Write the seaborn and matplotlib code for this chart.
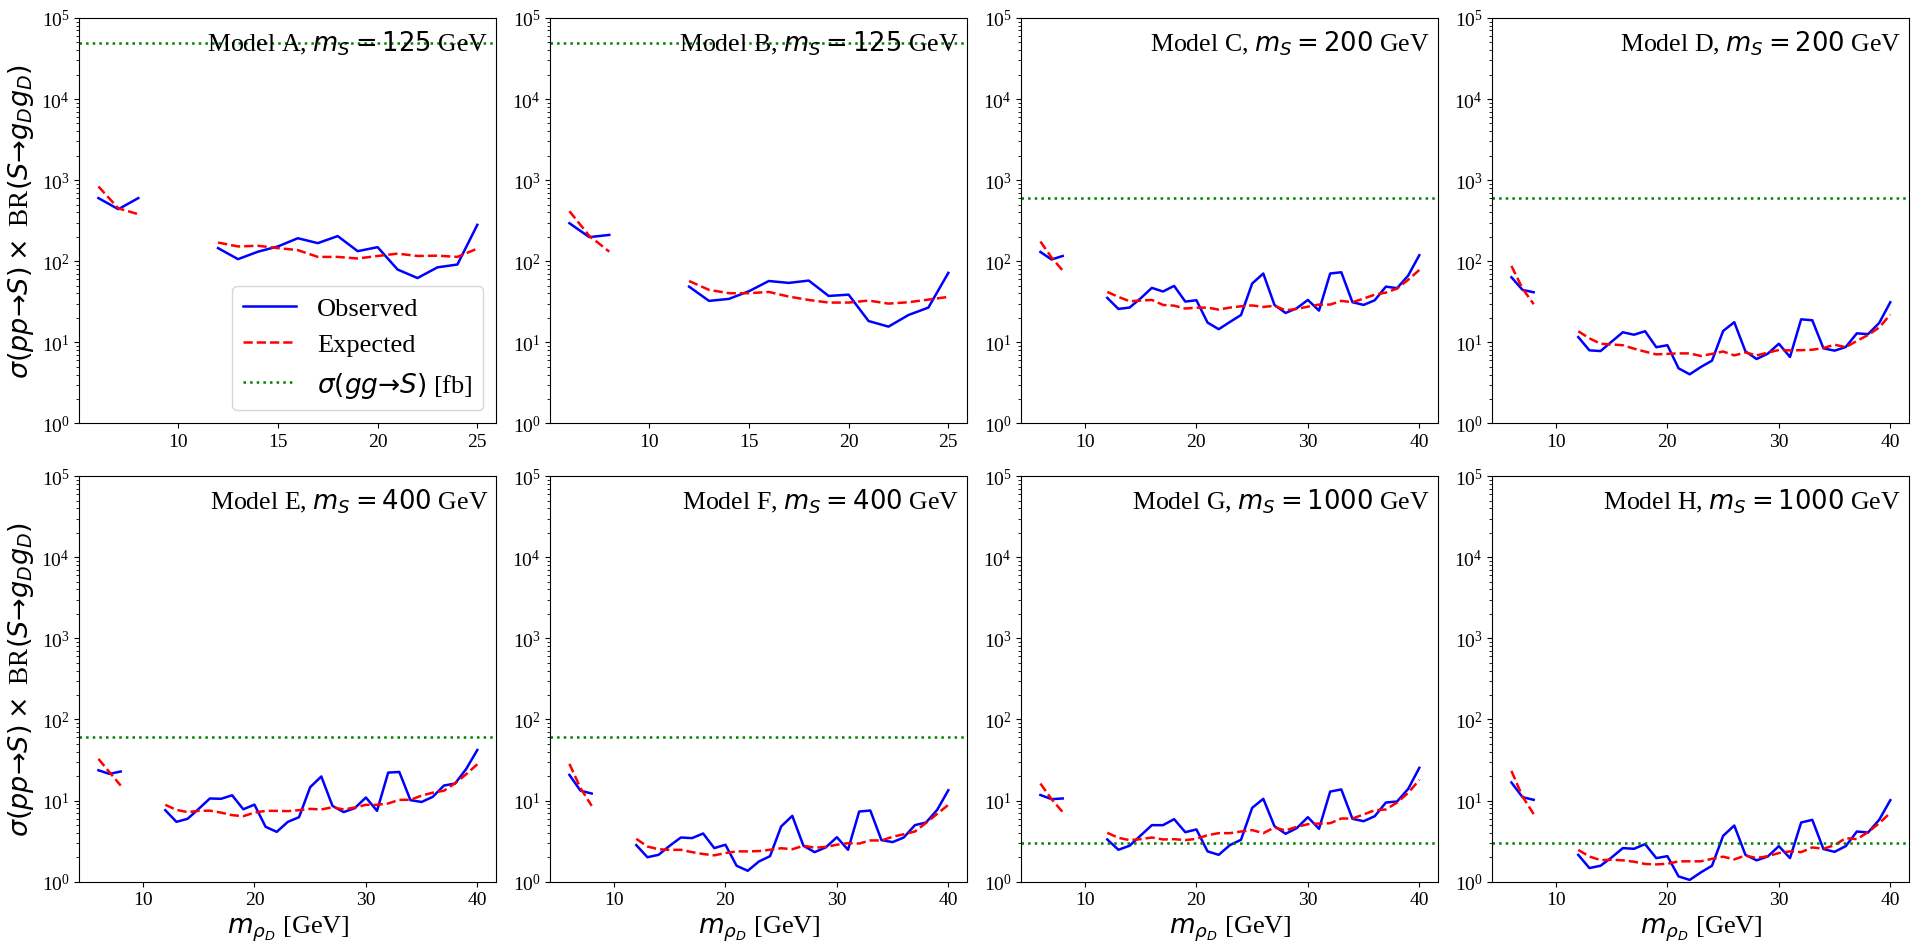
import seaborn as sns
import matplotlib.pyplot as plt
import pandas as pd
from matplotlib.lines import Line2D

# dark-pion mass points (GeV)
mass_short = [6, 7, 8, 12, 13, 14, 15, 16, 17, 18, 19, 20, 21, 22, 23, 24, 25]
mass_long = [6, 7, 8, 12, 13, 14, 15, 16, 17, 18, 19, 20, 21, 22, 23, 24, 25,
             26, 27, 28, 29, 30, 31, 32, 33, 34, 35, 36, 37, 38, 39, 40]

models = ["A", "B", "C", "D", "E", "F", "G", "H"]
m_S = [125, 125, 200, 200, 400, 400, 1000, 1000]
sigma_gg = [49000, 49000, 600, 600, 60, 60, 3, 3]  # fb

obs_A = [600, 438, 600, 145, 106, 131, 152, 192, 167, 204, 133, 149, 79, 62, 84, 91, 281]
exp_A = [835, 448, 380, 170, 152, 155, 145, 137, 113, 113, 108, 116, 124, 116, 117, 113, 143]

obs_B = [294, 198, 211, 48.6, 32.4, 34.3, 42.6, 57, 54, 57.7, 37.3, 38.7, 18.3, 15.6, 21.7, 26.8, 71.8]
exp_B = [414, 205, 131, 57, 44.3, 40.3, 40.3, 41.8, 36.6, 33.3, 30.9, 30.9, 32.7, 30, 31.2, 33.6, 36.3]

obs_C = [130, 105, 116, 35.3, 25.8, 26.8, 34.9, 46.9, 42.3, 49.6, 31.8, 33, 17.5, 14.5, 17.8, 21.7,
         53, 70.5, 28.9, 23, 26.3, 33.3, 24.6, 70.5, 73.1, 31.2, 28.9, 33, 48.6, 46.5, 66.5, 118.6]
exp_C = [175, 111, 76.7, 41.8, 36.3, 32.1, 32.7, 33.3, 28.9, 28.3, 26.1, 26.7, 26.8, 25.3, 26.8, 27.8,
         28.5, 27.3, 28.2, 24.8, 25.8, 27.5, 29.2, 29.2, 32.4, 31.2, 34.6, 38.7, 41, 46, 59, 78]

obs_D = [63.4, 44.3, 41.4, 11.6, 7.96, 7.8, 10.2, 13.3, 12.4, 13.7, 8.7, 9.2, 4.78, 4.03, 4.96, 5.94,
         13.8, 17.7, 7.74, 6.22, 7.24, 9.6, 6.59, 19.2, 18.7, 8.43, 7.89, 8.75, 12.9, 12.6, 17.3, 31.2]
exp_D = [87.5, 46, 29.5, 13.7, 11.2, 9.6, 9.4, 9.2, 8.35, 7.67, 7.1, 7.2, 7.3, 7.3, 6.78, 7.2,
         7.7, 6.9, 7.5, 6.9, 7.45, 8.04, 7.95, 8.0, 8.1, 8.5, 9.35, 8.7, 10.4, 12.3, 15.2, 22]

obs_E = [23.6, 21.3, 22.8, 7.6, 5.46, 5.95, 7.9, 10.6, 10.5, 11.6, 7.8, 8.9, 4.74, 4.11, 5.46, 6.23,
         14.6, 19.8, 8.6, 7.2, 8.05, 10.9, 7.46, 22.1, 22.5, 10.1, 9.6, 11.1, 15.3, 16.2, 24.5, 42]
exp_E = [32.6, 22.3, 15.3, 8.85, 7.67, 7.2, 7.46, 7.5, 7.1, 6.6, 6.41, 7.1, 7.46, 7.46, 7.4, 7.6,
         7.9, 7.75, 8.28, 7.75, 8.2, 8.85, 8.85, 9.2, 10.2, 10.2, 11.5, 12.5, 13.2, 16.3, 21.1, 28]

obs_F = [20.7, 13.2, 12.2, 2.82, 2.0, 2.14, 2.77, 3.5, 3.44, 3.92, 2.59, 2.85, 1.57, 1.36, 1.77, 2.06,
         4.79, 6.47, 2.77, 2.31, 2.64, 3.53, 2.47, 7.32, 7.53, 3.25, 3.07, 3.5, 4.97, 5.36, 7.67, 13.4]
exp_F = [28.3, 14.2, 8.6, 3.37, 2.71, 2.51, 2.46, 2.47, 2.31, 2.19, 2.11, 2.25, 2.36, 2.36, 2.38, 2.47,
         2.58, 2.51, 2.77, 2.62, 2.68, 2.85, 2.98, 2.95, 3.22, 3.22, 3.57, 3.84, 4.15, 5.3, 6.85, 8.85]

obs_G = [11.7, 10.4, 10.6, 3.31, 2.47, 2.77, 3.71, 4.97, 4.97, 5.89, 4.07, 4.4, 2.36, 2.14, 2.82, 3.28,
         8.12, 10.5, 4.83, 3.89, 4.56, 6.23, 4.48, 12.9, 13.7, 5.95, 5.56, 6.41, 9.45, 9.72, 13.9, 25.3]
exp_G = [16.2, 10.4, 7.2, 4.0, 3.47, 3.25, 3.34, 3.5, 3.31, 3.34, 3.25, 3.37, 3.74, 3.96, 3.96, 4.15,
         4.32, 3.96, 4.65, 4.28, 4.74, 5.1, 5.2, 5.25, 6.0, 6.0, 6.73, 7.6, 7.75, 9.45, 12.4, 18]

obs_H = [16.7, 11.0, 10.2, 2.14, 1.47, 1.57, 1.99, 2.59, 2.54, 2.9, 1.95, 2.06, 1.16, 1.05, 1.3, 1.57,
         3.67, 4.92, 2.14, 1.83, 2.04, 2.74, 1.95, 5.36, 5.78, 2.52, 2.33, 2.74, 4.15, 4.03, 5.78, 10.1]
exp_H = [23.2, 11.2, 6.8, 2.46, 2.04, 1.84, 1.86, 1.83, 1.76, 1.65, 1.63, 1.66, 1.78, 1.78, 1.78, 1.91,
         2.03, 1.88, 2.1, 1.95, 2.06, 2.25, 2.36, 2.31, 2.64, 2.54, 2.82, 3.44, 3.34, 4.07, 5.25, 7.05]

observed = [obs_A, obs_B, obs_C, obs_D, obs_E, obs_F, obs_G, obs_H]
expected = [exp_A, exp_B, exp_C, exp_D, exp_E, exp_F, exp_G, exp_H]

plt.rcParams["font.family"] = "serif"
plt.rcParams["font.serif"] = ["Liberation Serif"]
plt.rcParams["mathtext.fontset"] = "dejavusans"

FS = 18.6   # titles
LW = 1.8

fig, axes = plt.subplots(2, 4, figsize=(19.15, 9.45), dpi=100)
plt.subplots_adjust(left=0.0415, right=0.997, top=0.98, bottom=0.066,
                    wspace=0.13, hspace=0.13)

for i, ax in enumerate(axes.flat):
    mass = mass_short if i < 2 else mass_long
    df = pd.DataFrame({
        "mass": mass,
        "obs": observed[i],
        "exp": expected[i],
        "seg": [0 if m < 10 else 1 for m in mass],
    })
    # two separate segments (gap between 8 and 12 GeV)
    sns.lineplot(data=df, x="mass", y="obs", units="seg", estimator=None,
                 color="blue", linewidth=LW, ax=ax)
    sns.lineplot(data=df, x="mass", y="exp", units="seg", estimator=None,
                 color="red", linewidth=LW, linestyle="--", ax=ax)
    ax.axhline(sigma_gg[i], color="green", linestyle=":", linewidth=LW)

    ax.set_yscale("log")
    ax.set_ylim(1, 1e5)
    ax.set_xlim(mass[0] - 0.05 * (mass[-1] - mass[0]),
                mass[-1] + 0.05 * (mass[-1] - mass[0]))
    ax.tick_params(labelsize=14)
    ax.set_xlabel("")
    ax.set_ylabel("")

    ax.text(0.98, 0.975, f"Model {models[i]}, $m_S = {m_S[i]}$ GeV",
            transform=ax.transAxes, ha="right", va="top", fontsize=FS)

    if i % 4 == 0:
        ax.set_ylabel("$\\sigma(pp→S)\\times$ BR$(S→g_Dg_D)$", fontsize=19.5)
    if i >= 4:
        ax.set_xlabel(r"$m_{\rho_D}$ [GeV]", fontsize=19)

handles = [
    Line2D([], [], color="blue", linewidth=LW),
    Line2D([], [], color="red", linewidth=LW, linestyle="--"),
    Line2D([], [], color="green", linewidth=LW, linestyle=":"),
]
axes[0, 0].legend(handles, ["Observed", "Expected", "$\\sigma(gg→S)$ [fb]"],
                  loc="lower right", fontsize=19)

plt.savefig("out.png", dpi=100)
plt.close()
